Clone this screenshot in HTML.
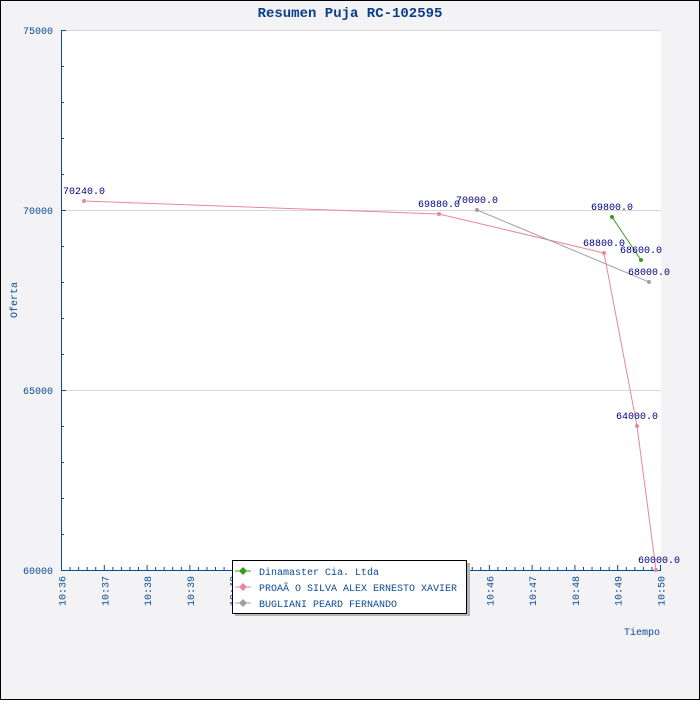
<!DOCTYPE html>
<html><head><style>body{margin:0}</style></head><body>
<svg width="700" height="700" xmlns="http://www.w3.org/2000/svg" font-family="Liberation Mono, monospace">
<rect x="0.5" y="0.5" width="699" height="699" fill="#f3f3f6" stroke="#000"/>
<rect x="61" y="30" width="600" height="540" fill="#fff"/>
<g stroke="#d8d8d8"><line x1="61" y1="30.5" x2="661" y2="30.5"/><line x1="61" y1="210.5" x2="661" y2="210.5"/><line x1="61" y1="390.5" x2="661" y2="390.5"/></g>
<text x="350" y="17" text-anchor="middle" font-size="14" font-weight="bold" fill="#0a3d8a">Resumen Puja RC-102595</text>
<g stroke="#0a4a96" stroke-width="1">
<line x1="61.5" y1="30" x2="61.5" y2="570"/><line x1="61" y1="570.5" x2="661" y2="570.5"/>
<path d="M61 30.5h5M61 66.5h3M61 102.5h3M61 138.5h3M61 174.5h3M61 210.5h5M61 246.5h3M61 282.5h3M61 318.5h3M61 354.5h3M61 390.5h5M61 426.5h3M61 462.5h3M61 498.5h3M61 534.5h3"/>
</g>
<g stroke="#0a4a96" id="xticks"></g>
<g font-size="10" fill="#0a4a96" text-anchor="end">
<text x="53" y="34">75000</text><text x="53" y="214">70000</text><text x="53" y="394">65000</text><text x="53" y="574">60000</text>
</g>
<g font-size="10" fill="#0a4a96" text-anchor="end" id="xl"></g>
<text x="17" y="300" font-size="10" fill="#0a4a96" text-anchor="middle" transform="rotate(-90 17 300)">Oferta</text>
<text x="660" y="635" font-size="10" fill="#0a4a96" text-anchor="end">Tiempo</text>
<polyline points="84,201 439,214 604,253 637,426 656,570" fill="none" stroke="#e88898"/>
<polyline points="477,210 649,282" fill="none" stroke="#a0a0a8"/>
<polyline points="612,217 641,260" fill="none" stroke="#3a9a20"/>
<g fill="#e88898"><circle cx="84" cy="201" r="2"/><circle cx="439" cy="214" r="2"/><circle cx="604" cy="253" r="2"/><circle cx="637" cy="426" r="2"/><circle cx="656" cy="570" r="2"/></g>
<g fill="#a0a0a8"><circle cx="477" cy="210" r="2"/><circle cx="649" cy="282" r="2"/></g>
<g fill="#3a9a20"><circle cx="612" cy="217" r="2"/><circle cx="641" cy="260" r="2"/></g>
<g font-size="10" fill="#000080">
<text x="63" y="194">70240.0</text><text x="418" y="207">69880.0</text><text x="456" y="203">70000.0</text>
<text x="591" y="210">69800.0</text><text x="620" y="253">68600.0</text><text x="583" y="246">68800.0</text>
<text x="628" y="275">68000.0</text><text x="616" y="419">64000.0</text><text x="638" y="563">60000.0</text>
</g>
<rect x="235" y="563" width="235" height="53" fill="#b4b4b4"/>
<rect x="232.5" y="560.5" width="234" height="53" fill="#fff" stroke="#000"/>
<g font-size="10" fill="#0a4a96">
<line x1="235" y1="571" x2="251" y2="571" stroke="#3a9a20"/><path d="M243 567l4 4-4 4-4-4z" fill="#3a9a20"/><text x="259" y="575">Dinamaster Cia. Ltda</text>
<line x1="235" y1="587" x2="251" y2="587" stroke="#e88898"/><path d="M243 583l4 4-4 4-4-4z" fill="#e88898"/><text x="259" y="591">PROAÃ O SILVA ALEX ERNESTO XAVIER</text>
<line x1="235" y1="603" x2="251" y2="603" stroke="#a0a0a8"/><path d="M243 599l4 4-4 4-4-4z" fill="#a0a0a8"/><text x="259" y="607">BUGLIANI PEARD FERNANDO</text>
</g>
<script>
var g=document.getElementById('xticks'),l=document.getElementById('xl'),ns='http://www.w3.org/2000/svg';
for(var i=0;i<=70;i++){var x=61.5+i*599/70;var t=document.createElementNS(ns,'line');t.setAttribute('x1',x);t.setAttribute('x2',x);t.setAttribute('y1',570);t.setAttribute('y2',i%5?567:565);g.appendChild(t);}
for(var m=0;m<=14;m++){var x=61.5+m*599/14+4;var s=document.createElementNS(ns,'text');s.setAttribute('x',x);s.setAttribute('y',576);s.setAttribute('transform','rotate(-90 '+x+' 576)');s.textContent='10:'+(36+m);l.appendChild(s);}
</script>
</svg>
</body></html>
